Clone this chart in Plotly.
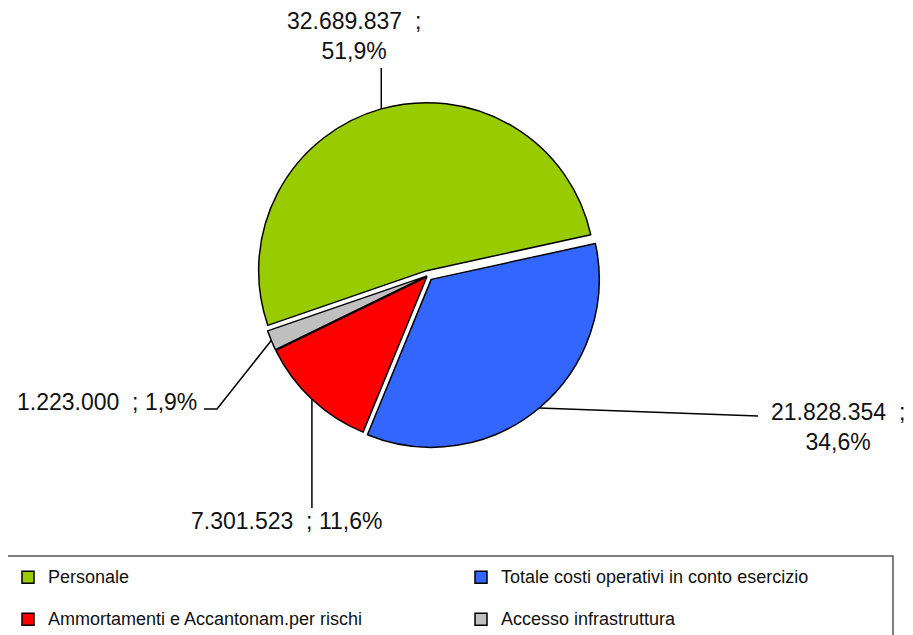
import plotly.graph_objects as go
import math

# ---- data ----
labels = ["Personale",
          "Totale costi operativi in conto esercizio",
          "Ammortamenti e Accantonam.per rischi",
          "Accesso infrastruttura"]
values = [32689837, 21828354, 7301523, 1223000]
colors = ["#99CC00", "#3366FF", "#FF0000", "#C0C0C0"]
pulls = [0.03, 0.03, 0.01, 0.01]

# ---- geometry (screen pixels; page body has an 8px margin) ----
OFF = 8
W, H = 913 - OFF, 635 - OFF
cx, cy, r = 428, 275.5, 168
rotation = 251


def px(x, y):
    return (x - OFF) / W, 1 - (y - OFF) / H


half = r * (1 + max(pulls))
dom_x = [px(cx - half, 0)[0], px(cx + half, 0)[0]]
dom_y = [px(0, cy + half)[1], px(0, cy - half)[1]]

total = sum(values)


def it_num(v):
    return f"{v:,}".replace(",", ".")


def it_pct(v):
    return f"{100 * v / total:.1f}".replace(".", ",") + "%"


# slice mid-angle anchors computed from data
anchors = []
cum = 0
for v, p in zip(values, pulls):
    mid = math.radians(rotation + 360 * (cum + v / 2) / total)
    cum += v
    rr = r * (1 + p)
    anchors.append((cx + rr * math.sin(mid), cy - rr * math.cos(mid)))

texts = [
    f"{it_num(values[0])}  ;<br>{it_pct(values[0])}",
    f"{it_num(values[1])}  ;<br>{it_pct(values[1])}",
    f"{it_num(values[2])}  ; {it_pct(values[2])}",
    f"{it_num(values[3])}  ; {it_pct(values[3])}",
]
# label placement (px) and leader-line bends
label_pos = [(354, 36, "center"), (838, 427, "center"), (286, 521, "center"), (199, 402, "right")]
bends = [
    lambda a: [(a[0], 68)],
    lambda a: [(758, 416)],
    lambda a: [(a[0], 508)],
    lambda a: [(217, 409), (204, 409)],
]

legend_labels = [f'<span style="font-size:18px">{l}</span><br> ' for l in labels]

fig = go.Figure()
fig.add_trace(go.Pie(
    labels=legend_labels,
    values=values,
    customdata=labels,
    sort=False,
    direction="clockwise",
    rotation=rotation,
    pull=pulls,
    marker=dict(colors=colors, line=dict(color="black", width=1.5)),
    textinfo="none",
    hovertemplate="%{customdata}: %{value}<extra></extra>",
    domain=dict(x=dom_x, y=dom_y),
))


def path_of(pts):
    return "M " + " L ".join(f"{px(x, y)[0]},{px(x, y)[1]}" for x, y in pts)


shapes = []
for a, b in zip(anchors, bends):
    shapes.append(dict(type="path", xref="paper", yref="paper", path=path_of([a] + b(a)),
                       line=dict(color="black", width=1.5)))
# legend frame (left edge lies outside the visible page, as in the source)
shapes.append(dict(type="path", xref="paper", yref="paper",
                   path=path_of([(OFF, 556), (893, 556), (893, 650)]),
                   line=dict(color="#555555", width=1.5), layer="below"))

annotations = []
for t, (lx, ly, anc) in zip(texts, label_pos):
    ax, ay = px(lx, ly)
    annotations.append(dict(text=t, x=ax, y=ay, xref="paper", yref="paper",
                            xanchor=anc, yanchor="middle", showarrow=False, align="center",
                            font=dict(family="Liberation Sans, Arial, sans-serif", size=23, color="#111111")))

fig.update_layout(
    width=W, height=H,
    margin=dict(l=0, r=0, t=0, b=0, autoexpand=False),
    paper_bgcolor="white",
    plot_bgcolor="white",
    showlegend=True,
    legend=dict(orientation="h", x=0, xanchor="left", y=px(0, 561)[1], yanchor="top",
                entrywidth=408, entrywidthmode="pixels", valign="top",
                font=dict(family="Liberation Sans, Arial, sans-serif", size=15, color="#111111"),
                bgcolor="rgba(0,0,0,0)", borderwidth=0),
    shapes=shapes,
    annotations=annotations,
)

fig.write_html("out.html")
